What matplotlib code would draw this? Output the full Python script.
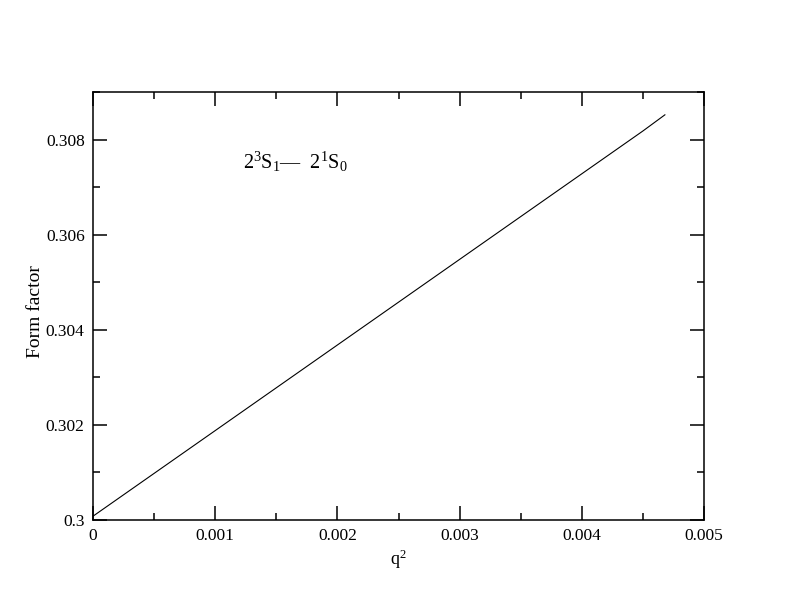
import matplotlib
matplotlib.use("Agg")
import matplotlib.pyplot as plt
from matplotlib.ticker import MultipleLocator, FixedLocator

q2 = [0.0, 0.0005, 0.001, 0.0015, 0.002, 0.0025, 0.003, 0.0035, 0.0037, 0.004, 0.0045, 0.00468]
ff = [0.30008, 0.30098, 0.30188, 0.30278, 0.30368, 0.30458, 0.30548, 0.30638, 0.30674, 0.30728, 0.30818, 0.30852]

xticks = [0, 0.001, 0.002, 0.003, 0.004, 0.005]
xticklabels = ["0", "0.001", "0.002", "0.003", "0.004", "0.005"]
yticks = [0.300, 0.302, 0.304, 0.306, 0.308]
yticklabels = ["0.3", "0.302", "0.304", "0.306", "0.308"]

plt.rcParams['font.family'] = ['Liberation Serif', 'DejaVu Serif']
plt.rcParams['mathtext.fontset'] = 'custom'
plt.rcParams['mathtext.rm'] = 'Liberation Serif'
plt.rcParams['mathtext.it'] = 'Liberation Serif'

fig = plt.figure(figsize=(7.92, 6.12), dpi=100)
ax = fig.add_axes([93/792, 1-520/612, (704-93)/792, (520-92)/612])
ax.plot(q2, ff, color='black', linewidth=0.8)
ax.set_xlim(0, 0.005)
ax.set_ylim(0.300, 0.309)
ax.xaxis.set_major_locator(FixedLocator(xticks))
ax.set_xticklabels(xticklabels)
ax.yaxis.set_major_locator(FixedLocator(yticks))
ax.set_yticklabels(yticklabels)
ax.xaxis.set_minor_locator(MultipleLocator(0.0005))
ax.yaxis.set_minor_locator(MultipleLocator(0.001))
ax.tick_params(which='both', direction='in', top=True, right=True, labelsize=12.5, width=1.1, pad=6)
ax.tick_params(which='major', length=10)
ax.tick_params(which='minor', length=5)
for s in ax.spines.values():
    s.set_linewidth(1.1)
ax.set_xlabel(r'q$^{2}$', fontsize=13, labelpad=2)
ax.set_ylabel('Form factor', fontsize=14)
ax.yaxis.set_label_coords(-0.080, 0.488)
ax.text(0.001228, 0.30753, r'$\mathrm{2^{3}S_{1}}$—  $\mathrm{2^{1}S_{0}}$', fontsize=14.5, va='center', ha='left')
fig.savefig('out.png', dpi=100)
